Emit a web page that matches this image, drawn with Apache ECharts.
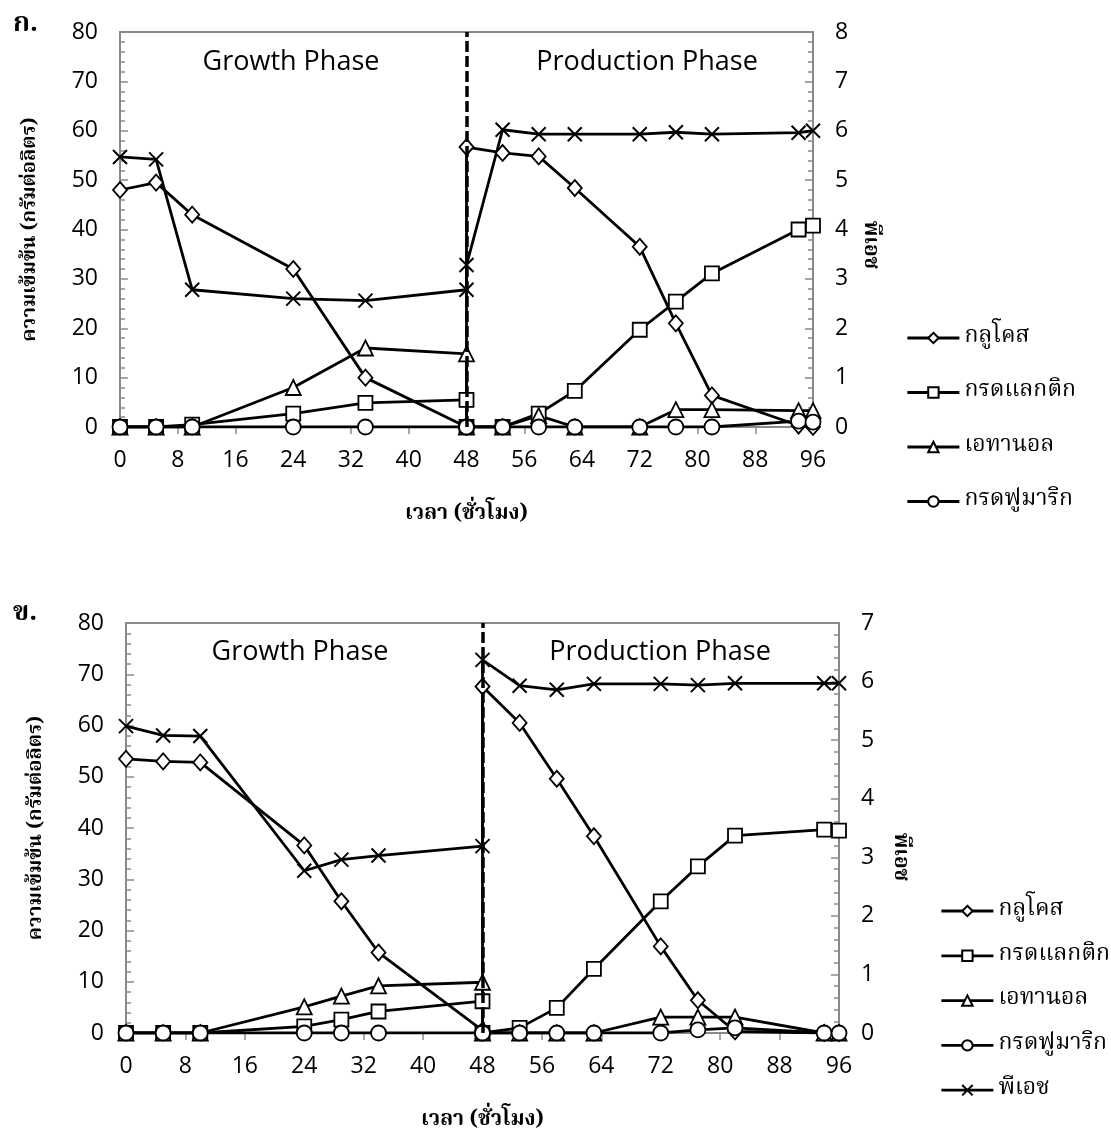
<!DOCTYPE html>
<html>
<head>
<meta charset="utf-8">
<script src="https://cdn.jsdelivr.net/npm/echarts@6/dist/echarts.min.js"></script>
<style>
html,body{margin:0;padding:0;background:#fff;}
#chart{width:1111px;height:1138px;}
</style>
</head>
<body>
<div id="chart"></div>
<script>
// ---------- Data: chart ก. ----------
const hoursA    = [0, 5, 10, 24, 34, 48, 48, 53, 58, 63, 72, 77, 82, 94, 96];
const glucoseA  = [48, 49.5, 43, 32, 10, 0, 56.7, 55.5, 54.8, 48.4, 36.5, 21, 6.4, 0.3, 0];
const lacticA   = [0, 0, 0.5, 2.7, 4.9, 5.5, 0, 0, 2.7, 7.3, 19.7, 25.4, 31.1, 40, 40.8];
const ethanolA  = [0, 0, 0, 8, 16, 14.8, 0, 0, 2.3, 0, 0, 3.5, 3.5, 3.3, 3.3];
const fumaricA  = [0, 0, 0, 0, 0, 0, 0, 0, 0, 0, 0, 0, 0, 1.2, 1.0];
const pHA       = [5.47, 5.42, 2.78, 2.6, 2.56, 2.78, 3.28, 6.02, 5.93, 5.93, 5.93, 5.97, 5.93, 5.96, 6.0];

// ---------- Data: chart ข. ----------
const hoursB    = [0, 5, 10, 24, 29, 34, 48, 48, 53, 58, 63, 72, 77, 82, 94, 96];
const glucoseB  = [53.5, 53, 52.8, 36.6, 25.7, 15.7, 0.5, 67.6, 60.5, 49.6, 38.4, 16.9, 6.4, 0.3, 0, 0];
const lacticB   = [0, 0, 0, 1.3, 2.6, 4.2, 6.2, 0, 1, 4.9, 12.5, 25.7, 32.5, 38.5, 39.7, 39.5];
const ethanolB  = [0, 0, 0, 5.1, 7.2, 9.2, 9.9, 0, 0, 0, 0, 3.1, 3.1, 3.1, 0, 0];
const fumaricB  = [0, 0, 0, 0, 0, 0, 0, 0, 0, 0, 0, 0, 0.6, 1.0, 0, 0];
const pHB       = [5.24, 5.08, 5.07, 2.77, 2.96, 3.03, 3.19, 6.37, 5.93, 5.86, 5.96, 5.96, 5.94, 5.97, 5.97, 5.97];

const names = ['กลูโคส', 'กรดแลกติก', 'เอทานอล', 'กรดฟูมาริก', 'พีเอช'];
const legendA = ['กลูโคส', 'กรดแลกติก', 'เอทานอล', 'กรดฟูมาริก'];
const legendB = ['กลูโคส', 'กรดแลกติก', 'เอทานอล', 'กรดฟูมาริก', 'พีเอช'];
const phaseLabels = ['Growth Phase', 'Production Phase'];
const phaseBoundary = 48;

const thaiFont = "'Noto Serif Thai','Noto Sans Thai','TH Sarabun New','Norasi','Kinnari','Loma','Garuda',serif";
const latinFont = "'Open Sans','Noto Sans',sans-serif";
const axisGray = '#8a8a8a';

const symbols = [
  {symbol: 'diamond', size: [14, 16]},
  {symbol: 'rect', size: 14},
  {symbol: 'triangle', size: 15},
  {symbol: 'circle', size: 15},
  {symbol: 'path://M0,0L10,10M10,0L0,10', size: 14}
];

function pairs(xs, ys) { return xs.map((x, i) => [x, ys[i]]); }

function makeSeries(idx, xs, ys, gi, yi, withMark) {
  const s = {
    name: names[idx],
    type: 'line',
    xAxisIndex: gi,
    yAxisIndex: yi,
    data: pairs(xs, ys),
    symbol: symbols[idx].symbol,
    symbolSize: symbols[idx].size,
    showAllSymbol: true,
    lineStyle: {color: '#000', width: 2.8},
    itemStyle: {color: '#fff', borderColor: '#000', borderWidth: idx === 4 ? 2 : 1.8},
    z: 3
  };
  if (withMark) {
    s.markLine = {
      silent: true, symbol: 'none', label: {show: false},
      lineStyle: {type: [11, 4], color: '#000', width: 3.5},
      data: [{xAxis: phaseBoundary}]
    };
  }
  return s;
}

const series = [
  makeSeries(0, hoursA, glucoseA, 0, 0, true),
  makeSeries(1, hoursA, lacticA, 0, 0),
  makeSeries(2, hoursA, ethanolA, 0, 0),
  makeSeries(3, hoursA, fumaricA, 0, 0),
  makeSeries(4, hoursA, pHA, 0, 1),
  makeSeries(0, hoursB, glucoseB, 1, 2, true),
  makeSeries(1, hoursB, lacticB, 1, 2),
  makeSeries(2, hoursB, ethanolB, 1, 2),
  makeSeries(3, hoursB, fumaricB, 1, 2),
  makeSeries(4, hoursB, pHB, 1, 3)
];

function xAxisCfg(gi) {
  return {
    type: 'value', gridIndex: gi, min: 0, max: 96, interval: 8,
    axisLine: {lineStyle: {color: axisGray, width: 2}},
    axisTick: {inside: false, length: 7, lineStyle: {color: axisGray, width: 1.5}},
    axisLabel: {color: '#000', fontSize: 23, fontFamily: latinFont, margin: 22},
    splitLine: {show: false},
    name: 'เวลา (ชั่วโมง)', nameLocation: 'middle', nameGap: 78,
    nameTextStyle: {color: '#000', fontSize: 21, fontWeight: 'bold', fontFamily: thaiFont}
  };
}
function yAxisCfg(gi, pos, max, interval, name) {
  const c = {
    type: 'value', gridIndex: gi, position: pos, min: 0, max: max, interval: interval,
    axisLine: {show: true, lineStyle: {color: axisGray, width: 2}},
    axisTick: {show: true, inside: true, length: 8, lineStyle: {color: axisGray, width: 1.5}},
    minorTick: {show: true, splitNumber: 5, length: 5, lineStyle: {color: axisGray, width: 1.5}},
    axisLabel: {color: '#000', fontSize: 23, fontFamily: latinFont, margin: 22},
    splitLine: {show: false}
  };
  if (name) {
    c.name = name; c.nameLocation = 'middle'; c.nameGap = 78;
    c.nameTextStyle = {color: '#000', fontSize: 20, fontWeight: 'bold', fontFamily: thaiFont};
  }
  return c;
}

const legendCommon = {
  orient: 'vertical', itemWidth: 52, itemHeight: 13,
  lineStyle: {width: 2.8, color: '#000'},
  textStyle: {color: '#000', fontSize: 23, fontFamily: thaiFont, lineHeight: 30},
  selectedMode: false
};

const option = {
  animation: false,
  backgroundColor: '#fff',
  title: [
    {text: 'ก.', left: 8, top: 8, textStyle: {fontSize: 27, fontWeight: 'bold', fontFamily: thaiFont, color: '#000'}},
    {text: 'ข.', left: 8, top: 597, textStyle: {fontSize: 27, fontWeight: 'bold', fontFamily: thaiFont, color: '#000'}}
  ],
  grid: [
    {left: 120, top: 32, width: 693, height: 395, show: true, borderColor: axisGray, borderWidth: 2, containLabel: false},
    {left: 126, top: 623, width: 713, height: 410, show: true, borderColor: axisGray, borderWidth: 2, containLabel: false}
  ],
  xAxis: [xAxisCfg(0), xAxisCfg(1)],
  yAxis: [
    yAxisCfg(0, 'left', 80, 10, 'ความเข้มข้น (กรัมต่อลิตร)'),
    yAxisCfg(0, 'right', 8, 1),
    yAxisCfg(1, 'left', 80, 10, 'ความเข้มข้น (กรัมต่อลิตร)'),
    yAxisCfg(1, 'right', 7, 1)
  ],
  legend: [
    Object.assign({data: legendA, left: 901, top: 318, itemGap: 24.5}, legendCommon),
    Object.assign({data: legendB, left: 935, top: 891, itemGap: 14.8}, legendCommon)
  ],
  graphic: [
    {type: 'text', x: 291, y: 62, style: {text: phaseLabels[0], fill: '#000', font: "27px " + latinFont, textAlign: 'center', textVerticalAlign: 'middle'}},
    {type: 'text', x: 647, y: 62, style: {text: phaseLabels[1], fill: '#000', font: "27px " + latinFont, textAlign: 'center', textVerticalAlign: 'middle'}},
    {type: 'text', x: 300, y: 652, style: {text: phaseLabels[0], fill: '#000', font: "27px " + latinFont, textAlign: 'center', textVerticalAlign: 'middle'}},
    {type: 'text', x: 660, y: 652, style: {text: phaseLabels[1], fill: '#000', font: "27px " + latinFont, textAlign: 'center', textVerticalAlign: 'middle'}},
    {type: 'text', x: 868, y: 245, rotation: -Math.PI / 2, style: {text: 'พีเอช', fill: '#000', font: "bold 21px " + thaiFont, textAlign: 'center', textVerticalAlign: 'middle'}},
    {type: 'text', x: 898, y: 857, rotation: -Math.PI / 2, style: {text: 'พีเอช', fill: '#000', font: "bold 21px " + thaiFont, textAlign: 'center', textVerticalAlign: 'middle'}}
  ],
  series: series
};

const chart = echarts.init(document.getElementById('chart'), null, {renderer: 'canvas'});
chart.setOption(option);
</script>
</body>
</html>
